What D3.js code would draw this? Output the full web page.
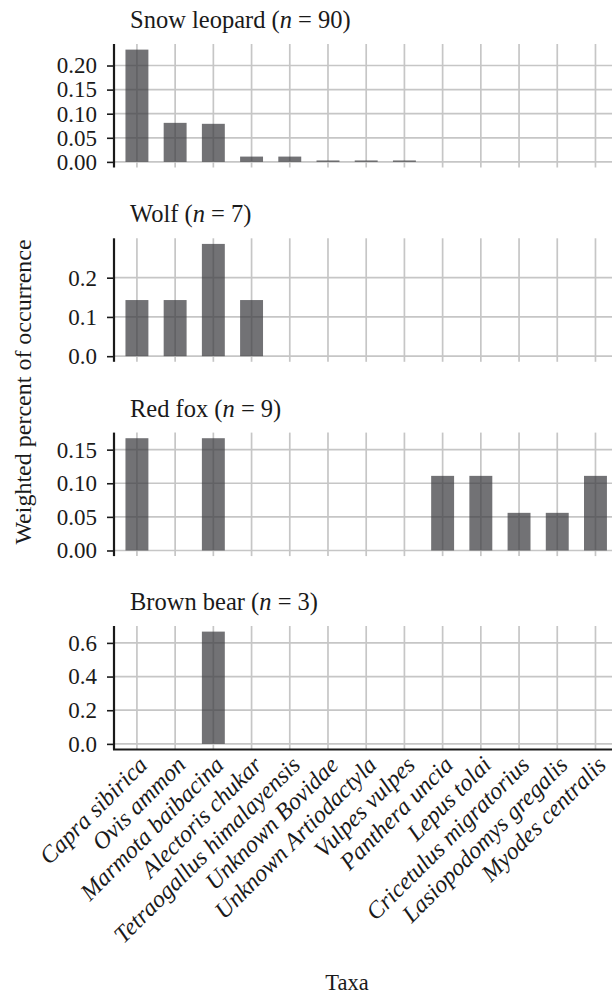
<!DOCTYPE html>
<html>
<head>
<meta charset="utf-8">
<script src="https://cdn.jsdelivr.net/npm/d3@7"></script>
<style>
  html, body { margin: 0; padding: 0; background: #fff; }
  svg { display: block; }
</style>
</head>
<body>
<svg id="chart" width="612" height="996"></svg>
<script>
// Prey taxa on the shared x axis
const taxa = [
  "Capra sibirica", "Ovis ammon", "Marmota baibacina", "Alectoris chukar",
  "Tetraogallus himalayensis", "Unknown Bovidae", "Unknown Artiodactyla",
  "Vulpes vulpes", "Panthera uncia", "Lepus tolai", "Cricetulus migratorius",
  "Lasiopodomys gregalis", "Myodes centralis"
];

// Predators, their sample sizes and weighted percent of occurrence per taxon
const predators = ["Snow leopard", "Wolf", "Red fox", "Brown bear"];
const sampleSizes = [90, 7, 9, 3];

const snowLeopard = [0.233, 0.081, 0.079, 0.011, 0.011, 0.003, 0.003, 0.003, 0, 0, 0, 0, 0];
const wolf        = [0.143, 0.143, 0.286, 0.143, 0, 0, 0, 0, 0, 0, 0, 0, 0];
const redFox      = [0.167, 0, 0.167, 0, 0, 0, 0, 0, 0.111, 0.111, 0.056, 0.056, 0.111];
const brownBear   = [0, 0, 0.667, 0, 0, 0, 0, 0, 0, 0, 0, 0, 0];

// Tick values for each panel's y axis
const ticksSnowLeopard = [0, 0.05, 0.10, 0.15, 0.20];
const ticksWolf        = [0, 0.1, 0.2];
const ticksRedFox      = [0, 0.05, 0.10, 0.15];
const ticksBrownBear   = [0, 0.2, 0.4, 0.6];

const panels = [
  { values: snowLeopard, ticks: ticksSnowLeopard, fmt: ".2f" },
  { values: wolf,        ticks: ticksWolf,        fmt: ".1f" },
  { values: redFox,      ticks: ticksRedFox,      fmt: ".2f" },
  { values: brownBear,   ticks: ticksBrownBear,   fmt: ".1f" }
];

// Layout
const W = 612, H = 996;
const left = 114, right = 618.4;
const panelTops = [44, 238.3, 432.6, 626];
const panelH = 123.5;
const gridColor = "#c6c6c6";
const ink = "#1a1a1a";
const FONT = "'Liberation Serif', 'Times New Roman', Times, 'DejaVu Serif', serif";

const svg = d3.select("#chart").attr("font-family", FONT);

const x = d3.scalePoint().domain(taxa).range([left, right]).padding(0.6);
const barW = x.step() * 0.6;

panels.forEach((p, i) => {
  const top = panelTops[i];
  const bottom = top + panelH;
  const maxV = d3.max(p.values);
  const pad = maxV * 0.05;
  const y = d3.scaleLinear().domain([-pad, maxV + pad]).range([bottom, top]);

  const g = svg.append("g");

  // horizontal grid
  g.selectAll("line.hgrid").data(p.ticks).join("line")
    .attr("x1", left).attr("x2", W)
    .attr("y1", d => y(d)).attr("y2", d => y(d))
    .attr("stroke", gridColor).attr("stroke-width", 1.7);

  // vertical grid
  g.selectAll("line.vgrid").data(taxa).join("line")
    .attr("x1", d => x(d)).attr("x2", d => x(d))
    .attr("y1", top).attr("y2", bottom)
    .attr("stroke", gridColor).attr("stroke-width", 1.7);

  // bars
  const rows = taxa.map((t, k) => ({ taxon: t, v: p.values[k] })).filter(d => d.v > 0);
  g.selectAll("rect").data(rows).join("rect")
    .attr("x", d => x(d.taxon) - barW / 2)
    .attr("width", barW)
    .attr("y", d => y(d.v))
    .attr("height", d => y(0) - y(d.v))
    .attr("fill", "#3b3b40")
    .attr("fill-opacity", 0.72);

  // y axis
  const yAxis = d3.axisLeft(y).tickValues(p.ticks).tickFormat(d3.format(p.fmt)).tickSize(7).tickPadding(10);
  const ax = g.append("g").attr("transform", `translate(${left},0)`).call(yAxis)
    .attr("font-family", FONT).attr("font-size", 23);
  ax.select(".domain").remove();
  ax.selectAll(".tick line").attr("stroke", ink).attr("stroke-width", 1.6);
  ax.selectAll(".tick text").attr("fill", ink);
  g.append("line").attr("x1", left).attr("x2", left).attr("y1", top).attr("y2", bottom)
    .attr("stroke", ink).attr("stroke-width", 2.2);

  // panel title
  const title = g.append("text")
    .attr("x", 130).attr("y", top - 16)
    .attr("font-family", FONT)
    .attr("font-size", 24.5)
    .attr("fill", ink);
  title.append("tspan").text(`${predators[i]} (`);
  title.append("tspan").attr("font-style", "italic").text("n");
  title.append("tspan").text(` = ${sampleSizes[i]})`);

  // bottom panel carries the x axis
  if (i === panels.length - 1) {
    g.append("line").attr("x1", left - 1).attr("x2", W).attr("y1", bottom).attr("y2", bottom)
      .attr("stroke", ink).attr("stroke-width", 2.2);
    g.selectAll("text.xlab").data(taxa).join("text")
      .attr("class", "xlab")
      .attr("transform", d => `translate(${x(d)},${bottom + 5}) rotate(-45)`)
      .attr("text-anchor", "end")
      .attr("dy", "0.7em")
      .attr("font-family", FONT)
      .attr("font-style", "italic")
      .attr("font-size", 24)
      .attr("fill", ink)
      .text(d => d);
  }
});

// axis titles
svg.append("text")
  .attr("transform", `translate(31,392) rotate(-90)`)
  .attr("text-anchor", "middle")
  .attr("font-family", FONT)
  .attr("font-size", 24)
  .attr("fill", ink)
  .text("Weighted percent of occurrence");

svg.append("text")
  .attr("x", 347).attr("y", 990)
  .attr("text-anchor", "middle")
  .attr("font-family", FONT)
  .attr("font-size", 22.5)
  .attr("fill", ink)
  .text("Taxa");
</script>
</body>
</html>
